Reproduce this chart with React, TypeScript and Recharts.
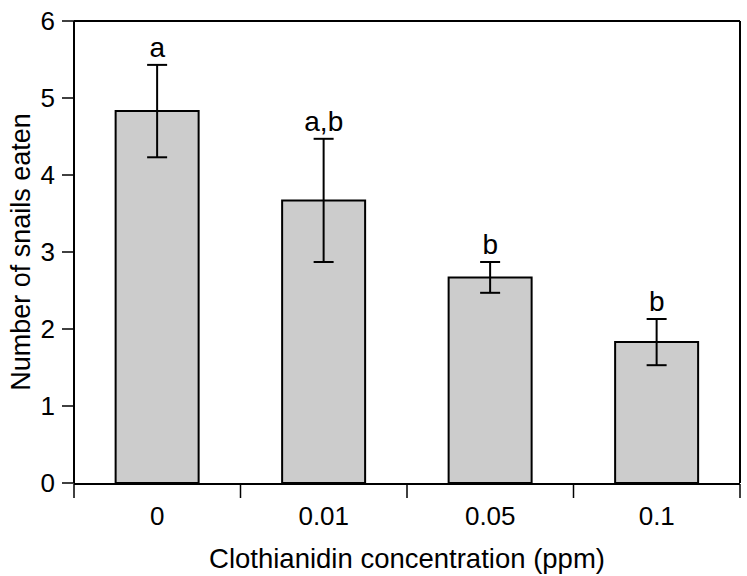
import React from 'react'
import {
  ComposedChart,
  Bar,
  Line,
  XAxis,
  YAxis,
  ErrorBar,
  LabelList,
  Label
} from 'recharts'

const categories = ['0', '0.01', '0.05', '0.1'];
const means = [4.83, 3.67, 2.67, 1.83];
const errors = [0.6, 0.8, 0.2, 0.3];
const letters = ['a', 'a,b', 'b', 'b'];
const yTicks = [0, 1, 2, 3, 4, 5, 6];
const edgeTicks = [0, 1, 2, 3, 4];

const data = categories.map((name, i) => ({
  name,
  mean: means[i],
  err: errors[i],
  top: means[i] + errors[i],
  letter: letters[i]
}));

const font = '"Liberation Sans", Arial, sans-serif';

export default function App() {
  return (
    <div style={{ position: 'absolute', left: 0, top: 0, background: '#fff' }}>
      <ComposedChart
        width={747}
        height={576}
        data={data}
        margin={{ top: 20, right: 6, left: 0, bottom: 91 }}
        barCategoryGap="25%"
        style={{ fontFamily: font }}
      >
        <XAxis
          xAxisId="edge"
          type="number"
          dataKey={(d: { name: string }) => categories.indexOf(d.name)}
          domain={[0, edgeTicks.length - 1]}
          ticks={edgeTicks}
          allowDataOverflow
          height={1}
          tickSize={14}
          tickFormatter={() => ''}
          axisLine={{ stroke: '#000', strokeWidth: 2 }}
          tickLine={{ stroke: '#000', strokeWidth: 1.5 }}
        />
        <XAxis
          xAxisId="cat"
          dataKey="name"
          height={1}
          tickSize={0}
          tickMargin={24}
          axisLine={false}
          tickLine={false}
          tick={{ fontSize: 26, fill: '#000' }}
        >
          <Label
            value="Clothianidin concentration (ppm)"
            position="bottom"
            offset={64}
            style={{ fontSize: 27.5, fill: '#000', fontFamily: font }}
          />
        </XAxis>
        <XAxis
          xAxisId="top"
          orientation="top"
          dataKey="name"
          height={1}
          tick={false}
          tickLine={false}
          axisLine={{ stroke: '#000', strokeWidth: 2 }}
        />
        <YAxis
          domain={[0, 6]}
          ticks={yTicks}
          width={74}
          tickSize={12}
          tickMargin={7}
          axisLine={{ stroke: '#000', strokeWidth: 2 }}
          tickLine={{ stroke: '#000', strokeWidth: 1.5 }}
          tick={{ fontSize: 26, fill: '#000' }}
        >
          <Label
            value="Number of snails eaten"
            angle={-90}
            position="insideLeft"
            offset={20}
            style={{ fontSize: 27, fill: '#000', textAnchor: 'middle', fontFamily: font }}
          />
        </YAxis>
        <YAxis
          yAxisId="right"
          orientation="right"
          domain={[0, 6]}
          width={1}
          tick={false}
          tickLine={false}
          axisLine={{ stroke: '#000', strokeWidth: 2 }}
        />
        <Bar
          xAxisId="cat"
          dataKey="mean"
          fill="#cccccc"
          stroke="#000"
          strokeWidth={2}
          isAnimationActive={false}
        >
          <ErrorBar dataKey="err" width={10} stroke="#000" strokeWidth={2} />
        </Bar>
        <Line
          xAxisId="cat"
          dataKey="top"
          stroke="none"
          dot={false}
          activeDot={false}
          isAnimationActive={false}
        >
          <LabelList
            dataKey="letter"
            position="top"
            offset={8}
            style={{ fontSize: 28, fill: '#000', fontFamily: font }}
          />
        </Line>
      </ComposedChart>
    </div>
  )
}
